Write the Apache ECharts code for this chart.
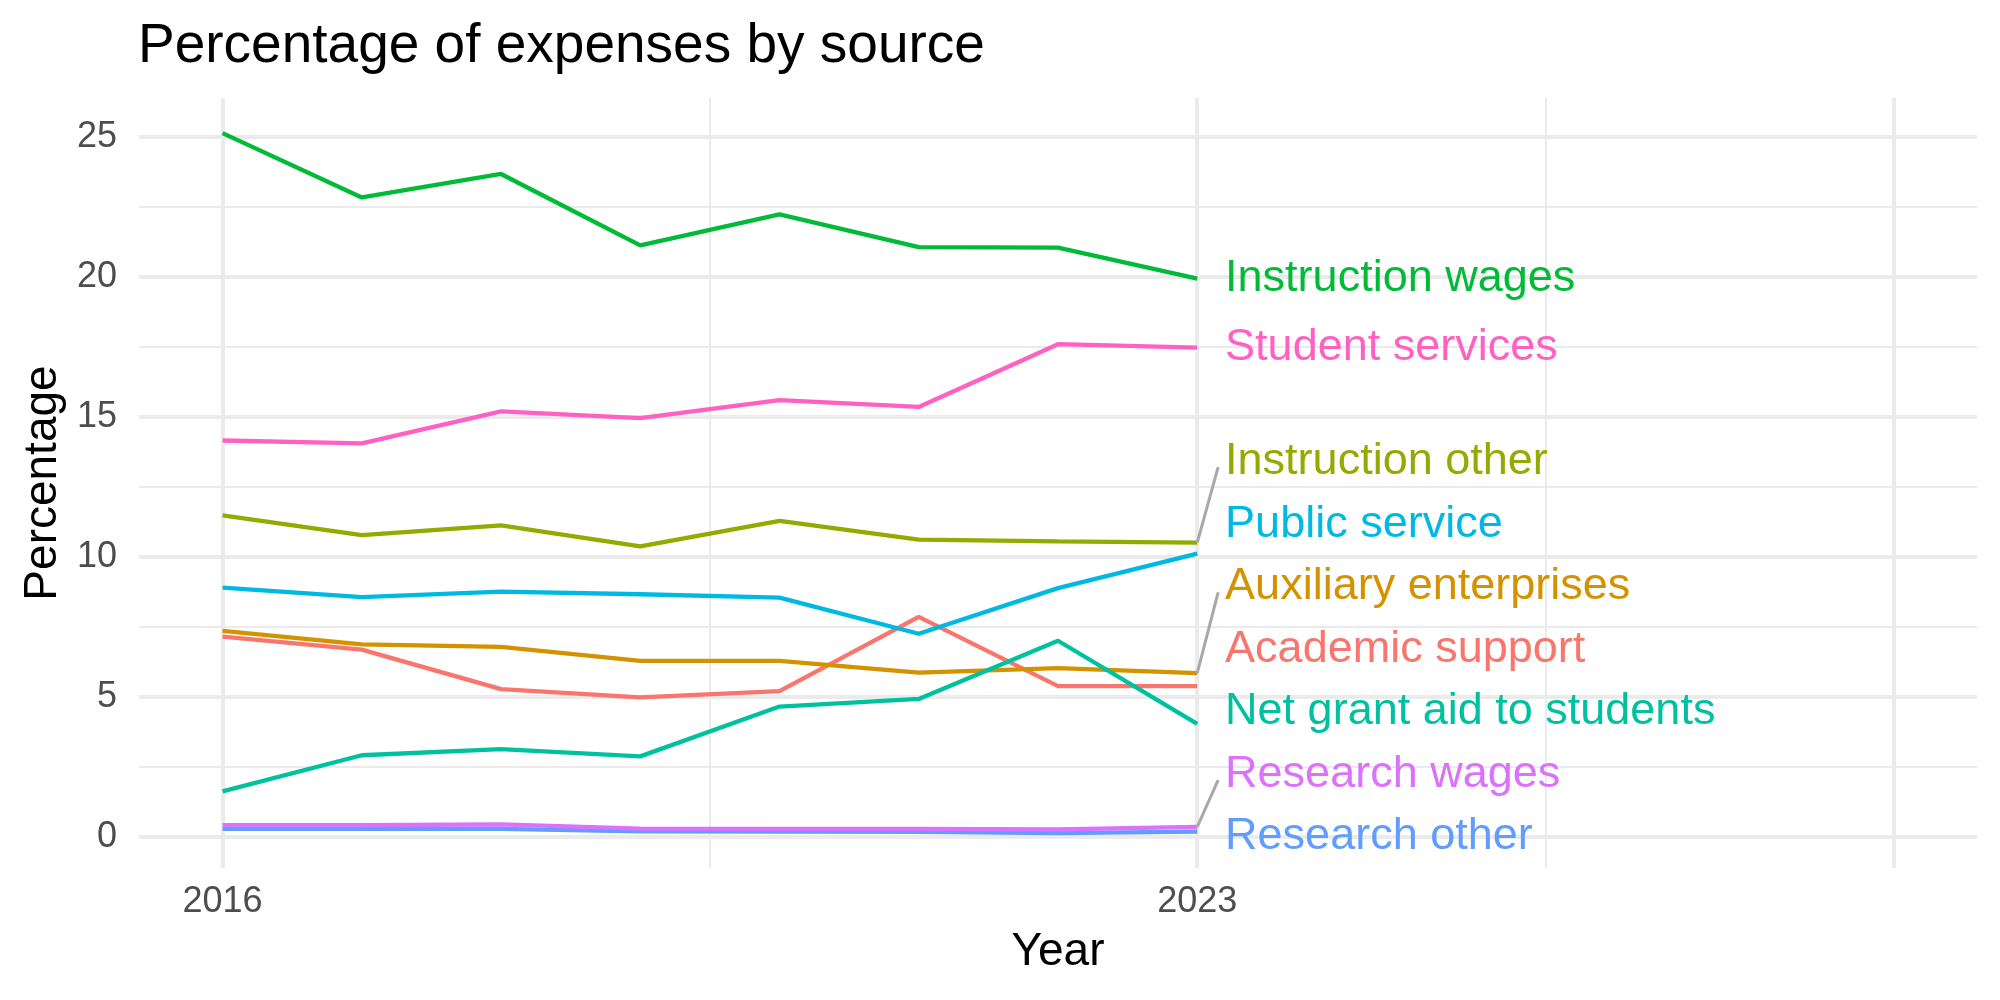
<!DOCTYPE html>
<html>
<head>
<meta charset="utf-8">
<title>Percentage of expenses by source</title>
<script src="https://cdn.jsdelivr.net/npm/echarts@6/dist/echarts.min.js"></script>
<style>
  html, body { margin: 0; padding: 0; background: #fff; }
  #chart { width: 2000px; height: 1000px; }
</style>
</head>
<body>
<div id="chart"></div>
<script>
// data
var years = [2016, 2017, 2018, 2019, 2020, 2021, 2022, 2023];

var academicSupport      = [7.16, 6.69, 5.28, 4.99, 5.21, 7.86, 5.39, 5.39];
var auxiliaryEnterprises = [7.36, 6.88, 6.79, 6.29, 6.29, 5.87, 6.03, 5.85];
var instructionOther     = [11.49, 10.78, 11.13, 10.38, 11.29, 10.62, 10.56, 10.51];
var instructionWages     = [25.14, 22.84, 23.68, 21.13, 22.24, 21.07, 21.05, 19.94];
var netGrantAid          = [1.63, 2.92, 3.14, 2.88, 4.66, 4.93, 7.01, 4.04];
var publicService        = [8.91, 8.57, 8.76, 8.67, 8.55, 7.26, 8.89, 10.12];
var researchOther        = [0.29, 0.29, 0.29, 0.20, 0.19, 0.18, 0.14, 0.19];
var researchWages        = [0.42, 0.42, 0.45, 0.30, 0.29, 0.29, 0.27, 0.36];
var studentServices      = [14.16, 14.06, 15.20, 14.96, 15.60, 15.36, 17.60, 17.48];

var xTickLabels = [2016, 2023];
var yTickLabels = [0, 5, 10, 15, 20, 25];
var xMajorGrid = [2016, 2023, 2028];
var xMinorGrid = [2019.5, 2025.5];
var yMajorGrid = [0, 5, 10, 15, 20, 25];
var yMinorGrid = [2.5, 7.5, 12.5, 17.5, 22.5];

var groups = [
  { name: 'Academic support',          values: academicSupport,      color: '#F8766D' },
  { name: 'Auxiliary enterprises',     values: auxiliaryEnterprises, color: '#D39200' },
  { name: 'Instruction other',         values: instructionOther,     color: '#93AA00' },
  { name: 'Instruction wages',         values: instructionWages,     color: '#00BA38' },
  { name: 'Net grant aid to students', values: netGrantAid,          color: '#00C19F' },
  { name: 'Public service',            values: publicService,        color: '#00B9E3' },
  { name: 'Research other',            values: researchOther,        color: '#619CFF' },
  { name: 'Research wages',            values: researchWages,        color: '#DB72FB' },
  { name: 'Student services',          values: studentServices,      color: '#FF61C3' }
];

var FONT = '"Liberation Sans", Arial, sans-serif';
var lastYear = years[years.length - 1];

// simple repel: stack the end labels upward so they don't overlap
var gap = 2.235;
var ends = groups.map(function (g) {
  return { g: g, end: g.values[g.values.length - 1] };
}).sort(function (a, b) { return a.end - b.end; });
var prev = null;
ends.forEach(function (e) {
  e.pos = prev === null ? Math.max(0, e.end - gap / 2) : Math.max(e.end, prev + gap);
  prev = e.pos;
});

var labelData = ends.map(function (e) {
  return [lastYear + 0.2, e.pos, e.g.name, e.g.color];
});
var segData = ends.filter(function (e) { return e.pos - e.end > 1.5; }).map(function (e) {
  return { coords: [[lastYear, e.end], [lastYear + 0.15, e.pos - 0.2]] };
});

var gridLines = [];
yMajorGrid.forEach(function (v) { gridLines.push({ yAxis: v, lineStyle: { width: 4 } }); });
yMinorGrid.forEach(function (v) { gridLines.push({ yAxis: v, lineStyle: { width: 2 } }); });
xMajorGrid.forEach(function (v) { gridLines.push({ xAxis: v, lineStyle: { width: 4 } }); });
xMinorGrid.forEach(function (v) { gridLines.push({ xAxis: v, lineStyle: { width: 2 } }); });

var series = [{
  type: 'line',
  data: [],
  z: 0,
  silent: true,
  markLine: {
    z: 0,
    silent: true,
    symbol: ['none', 'none'],
    label: { show: false },
    lineStyle: { color: '#EBEBEB', type: 'solid' },
    emphasis: { disabled: true },
    animation: false,
    data: gridLines
  }
}];

groups.forEach(function (g) {
  series.push({
    type: 'line',
    name: g.name,
    z: 2,
    showSymbol: false,
    symbol: 'none',
    lineStyle: { color: g.color, width: 4.3 },
    itemStyle: { color: g.color },
    data: years.map(function (y, i) { return [y, g.values[i]]; })
  });
});

series.push({
  type: 'lines',
  coordinateSystem: 'cartesian2d',
  z: 3,
  silent: true,
  lineStyle: { color: '#A8A8A8', width: 3, opacity: 1 },
  data: segData
});

// end labels as plain text
series.push({
  type: 'custom',
  z: 4,
  silent: true,
  renderItem: function (params, api) {
    var pt = api.coord([api.value(0), api.value(1)]);
    return {
      type: 'text',
      style: {
        x: pt[0],
        y: pt[1],
        text: labelData[params.dataIndex][2],
        fill: labelData[params.dataIndex][3],
        font: '45px ' + FONT,
        verticalAlign: 'middle',
        align: 'left'
      }
    };
  },
  data: labelData.map(function (d) { return [d[0], d[1]]; })
});

var chart = echarts.init(document.getElementById('chart'));
chart.setOption({
  animation: false,
  backgroundColor: '#ffffff',
  title: {
    text: 'Percentage of expenses by source',
    left: 138,
    top: 19,
    padding: 0,
    textStyle: { fontFamily: FONT, fontSize: 55, fontWeight: 'normal', color: '#000000' }
  },
  grid: { left: 139, right: 23, top: 98, bottom: 132, containLabel: false },
  xAxis: {
    type: 'value',
    min: 2015.4,
    max: 2028.6,
    name: 'Year',
    nameLocation: 'middle',
    nameGap: 61,
    nameTextStyle: { fontFamily: FONT, fontSize: 46, color: '#000000' },
    axisLine: { show: false },
    axisTick: { show: false },
    splitLine: { show: false },
    axisLabel: {
      customValues: xTickLabels,
      margin: 16,
      fontFamily: FONT,
      fontSize: 36,
      color: '#4D4D4D',
      formatter: function (v) { return String(v); }
    }
  },
  yAxis: {
    type: 'value',
    min: -1.107,
    max: 26.393,
    name: 'Percentage',
    nameLocation: 'middle',
    nameGap: 68,
    nameTextStyle: { fontFamily: FONT, fontSize: 46, color: '#000000' },
    axisLine: { show: false },
    axisTick: { show: false },
    splitLine: { show: false },
    axisLabel: {
      customValues: yTickLabels,
      margin: 22,
      fontFamily: FONT,
      fontSize: 36,
      color: '#4D4D4D',
      formatter: function (v) { return String(v); }
    }
  },
  series: series
});
</script>
</body>
</html>
